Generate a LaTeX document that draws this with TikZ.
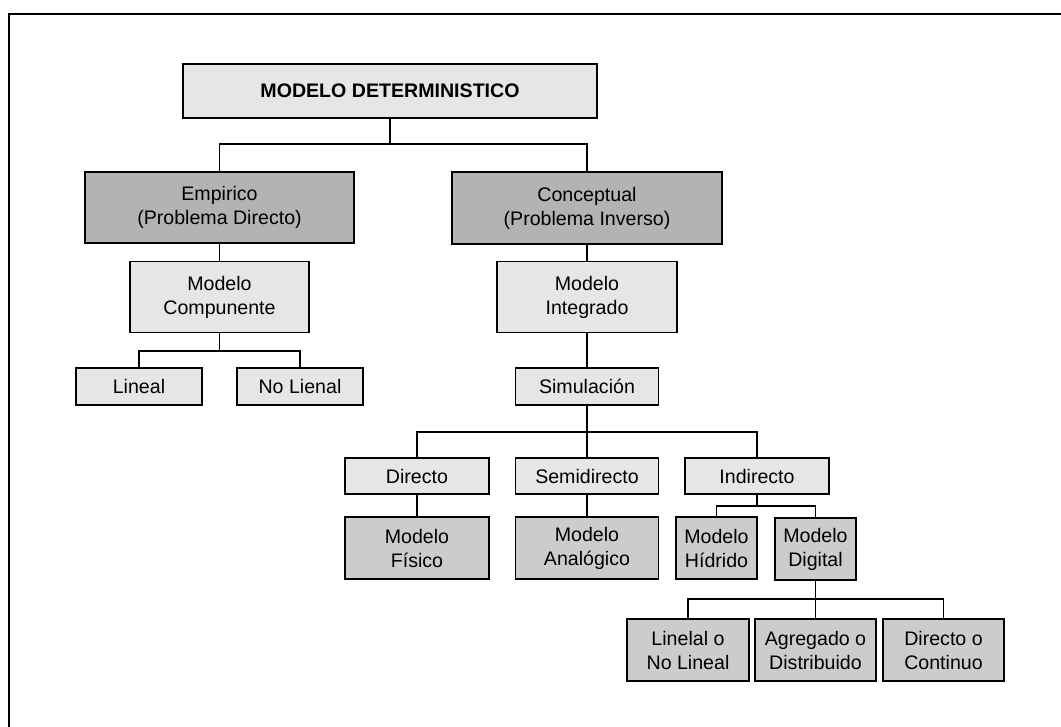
\documentclass[tikz,border=0pt]{standalone}
\usepackage{fontspec}
\setmainfont{Liberation Sans}
\definecolor{cl}{HTML}{E6E6E6}
\definecolor{cm}{HTML}{CCCCCC}
\definecolor{cd}{HTML}{B3B3B3}
\tikzset{
  bx/.style n args={2}{draw=black, line width=1pt, rectangle, inner sep=0pt,
    minimum width=#1*0.75pt, minimum height=#2*0.75pt, align=center,
    font=\fontsize{14.7}{18}\selectfont},
  lt/.style={fill=cl}, md/.style={fill=cm}, dk/.style={fill=cd},
  ln/.style={line width=1pt, draw=black}
}
\begin{document}
\begin{tikzpicture}[x=0.75pt,y=-0.75pt]
\useasboundingbox (0,0) rectangle (1061,727);
\fill[white] (0,0) rectangle (1061,727);
\draw[line width=1.6pt] (9,727) -- (9,14) -- (1061,14);

% nodes
\node[bx={414}{54}, lt, font=\fontsize{14.7}{18}\selectfont\bfseries] (top) at (390,91) {MODELO DETERMINISTICO};
\node[bx={269}{71}, dk] (emp) at (219.5,207.5) {Empirico\\(Problema Directo)};
\node[bx={270}{72}, dk] (con) at (587,208) {Conceptual\\(Problema Inverso)};
\node[bx={179}{71}, lt] (comp) at (219.5,297) {Modelo\\Compunente};
\node[bx={180}{71}, lt] (integ) at (587,297) {Modelo\\Integrado};
\node[bx={126}{37}, lt] (lin) at (139,386.5) {Lineal};
\node[bx={126}{37}, lt] (nolin) at (300,386.5) {No Lienal};
\node[bx={143}{37}, lt] (sim) at (587,386.5) {Simulación};
\node[bx={144}{36}, lt] (dir) at (417,476) {Directo};
\node[bx={143}{36}, lt] (semi) at (587,476) {Semidirecto};
\node[bx={144}{36}, lt] (ind) at (757,476) {Indirecto};
\node[bx={144}{62}, md] (fis) at (417,548) {Modelo\\Físico};
\node[bx={143}{62}, md] (ana) at (587,548) {Modelo\\Analógico};
\node[bx={81}{62}, md] (hid) at (716.5,548) {Modelo\\Hídrido};
\node[bx={81}{62}, md] (dig) at (815.5,549) {Modelo\\Digital};
\node[bx={122}{62}, md] (lnl) at (688,650) {Linelal o\\No Lineal};
\node[bx={121}{62}, md] (agr) at (815.5,650) {Agregado o\\Distribuido};
\node[bx={121}{62}, md] (dco) at (943.5,650) {Directo o\\Continuo};

% bus levels
\coordinate (b1) at (0,144);
\coordinate (b2) at (0,351);
\coordinate (b3) at (0,432);
\coordinate (b4) at (0,506);
\coordinate (b5) at (0,599);

% connectors
\draw[ln] (top.south) -- (top.south |- b1);
\draw[ln] (emp.north) |- (top.south |- b1) -| (con.north);
\draw[ln] (emp.south) -- (comp.north);
\draw[ln] (con.south) -- (integ.north);
\draw[ln] (comp.south) -- (comp.south |- b2);
\draw[ln] (lin.north) |- (comp.south |- b2) -| (nolin.north);
\draw[ln] (integ.south) -- (sim.north);
\draw[ln] (sim.south) -- (semi.north);
\draw[ln] (dir.north) |- (sim.south |- b3) -| (ind.north);
\draw[ln] (dir.south) -- (fis.north);
\draw[ln] (semi.south) -- (ana.north);
\draw[ln] (ind.south) -- (ind.south |- b4);
\draw[ln] (hid.north) |- (ind.south |- b4) -| (dig.north);
\draw[ln] (dig.south) -- (agr.north);
\draw[ln] (lnl.north) |- (dig.south |- b5) -| (dco.north);
\end{tikzpicture}
\end{document}
